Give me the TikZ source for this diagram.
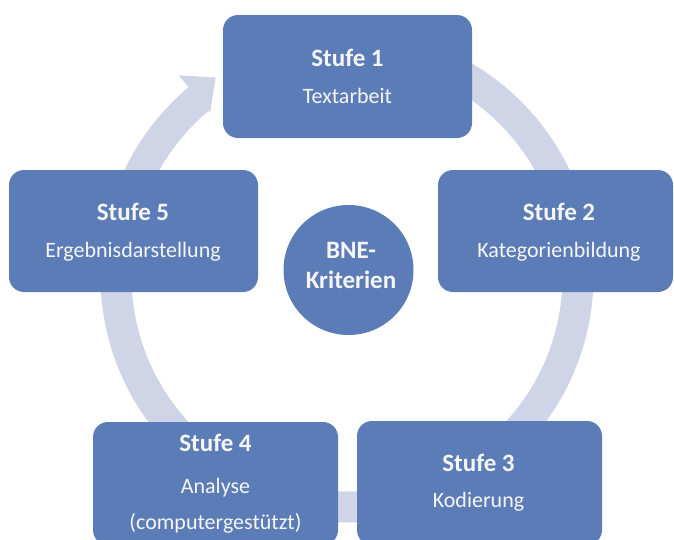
\documentclass[tikz,border=0pt]{standalone}
\usepackage{fontspec}
\setmainfont{Carlito}
\definecolor{boxblue}{RGB}{91,124,182}
\definecolor{ringgray}{RGB}{207,213,230}
\definecolor{labelwhite}{RGB}{246,246,246}
\begin{document}
\begin{tikzpicture}[x=1pt,y=-1pt,
  stagebox/.style={draw=none, fill=boxblue, rounded corners=15pt, inner sep=0pt},
  title/.style={text=labelwhite, font=\bfseries\fontsize{25}{29}\selectfont, anchor=base, inner sep=0pt},
  sub/.style={text=labelwhite, font=\fontsize{22}{26}\selectfont, anchor=base, inner sep=0pt}]
\useasboundingbox (0,0) rectangle (674,539);
\clip (0,0) rectangle (674,539);

% cycle ring with its arrow head
\coordinate (hub) at (347,276);
\draw[draw=ringgray, line width=31pt]
  ([shift={(-90:231)}]hub) arc[start angle=-90, end angle=230, radius=231];
\fill[ringgray] ([shift={(230:213)}]hub) -- ([shift={(230:262)}]hub)
  -- ([shift={(236.5:238)}]hub) -- cycle;

% centre circle
\node[circle, fill=boxblue, minimum size=130pt, inner sep=0pt] (bne) at (348.5,270) {};
\node[title] (bnea) at (351,258.5) {BNE-};
\node[title] (bneb) at (351,288.5) {Kriterien};

% stages
\node[stagebox, minimum width=249pt, minimum height=123pt] (s1) at (347.5,76.5) {};
\node[title] (s1t) at (347.5,66) {Stufe 1};
\node[sub] (s1s) at (347.5,103.6) {Textarbeit};

\node[stagebox, minimum width=235pt, minimum height=122pt] (s2) at (555.5,231) {};
\node[title] (s2t) at (559,220.5) {Stufe 2};
\node[sub] (s2s) at (559,257.1) {Kategorienbildung};

\node[stagebox, minimum width=245pt, minimum height=124pt] (s3) at (479.5,483) {};
\node[title] (s3t) at (478.5,471.5) {Stufe 3};
\node[sub] (s3s) at (478.5,507.1) {Kodierung};

\node[stagebox, minimum width=245pt, minimum height=123pt] (s4) at (215.5,483.5) {};
\node[title] (s4t) at (215.5,451) {Stufe 4};
\node[sub] (s4s) at (215.5,493.1) {Analyse};
\node[sub] (s4u) at (215.5,529) {(computergestützt)};

\node[stagebox, minimum width=249pt, minimum height=122pt] (s5) at (133.5,231) {};
\node[title] (s5t) at (133,220.5) {Stufe 5};
\node[sub] (s5s) at (133,257.1) {Ergebnisdarstellung};
\end{tikzpicture}
\end{document}
